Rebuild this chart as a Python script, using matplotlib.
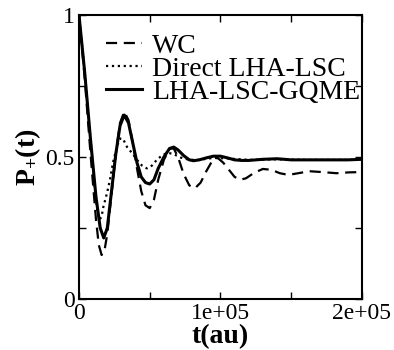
import matplotlib
matplotlib.use('Agg')
from matplotlib import pyplot as plt
from matplotlib.ticker import MultipleLocator

plt.rcParams['font.family'] = ['Liberation Serif', 'DejaVu Serif']
plt.rcParams['mathtext.fontset'] = 'custom'
plt.rcParams['mathtext.rm'] = 'Liberation Serif'
plt.rcParams['mathtext.bf'] = 'Liberation Serif:bold'

# WC (dashed)
t_wc = [0, 4000, 8000, 12000, 14000, 16000, 18000, 20000, 23000, 26000, 29000, 32000,
        35000, 38000, 41000, 44000, 47000, 50000, 53000, 56000, 60000, 64000, 67000,
        70000, 74000, 78000, 82000, 86000, 90000, 94000, 98000, 102000, 106000, 110000,
        114000, 118000, 124000, 130000, 136000, 142000, 148000, 155000, 163000, 172000,
        182000, 191000, 200000]
p_wc = [1.0, 0.78, 0.52, 0.28, 0.19, 0.155, 0.17, 0.23, 0.37, 0.51, 0.62, 0.66,
        0.63, 0.55, 0.46, 0.38, 0.33, 0.32, 0.35, 0.42, 0.49, 0.53, 0.53,
        0.50, 0.44, 0.40, 0.39, 0.41, 0.45, 0.485, 0.497, 0.48, 0.455, 0.43,
        0.42, 0.425, 0.445, 0.458, 0.455, 0.443, 0.437, 0.443, 0.45, 0.447,
        0.443, 0.446, 0.447]

# Direct LHA-LSC (dotted)
t_direct = [0, 4000, 8000, 11000, 13000, 14500, 16000, 17000, 19800, 21900, 24000, 27000,
            29000, 31000, 34000, 37500, 41000, 44500, 48000, 51600, 55000, 59000, 63000,
            67000, 72000, 78000, 85000, 95000, 105000, 120000, 140000, 160000, 180000, 200000]
p_direct = [1.0, 0.80, 0.57, 0.40, 0.31, 0.28, 0.29, 0.32, 0.373, 0.42, 0.48, 0.54,
            0.565, 0.565, 0.535, 0.514, 0.49, 0.47, 0.46, 0.47, 0.49, 0.507, 0.515,
            0.51, 0.498, 0.49, 0.49, 0.497, 0.495, 0.49, 0.492, 0.49, 0.49, 0.49]

# LHA-LSC-GQME (solid)
t_gqme = [0, 4000, 8000, 12000, 15000, 17500, 20000, 23000, 26000, 29000, 32000, 35000,
          38000, 41000, 44000, 47000, 50000, 53000, 56000, 60000, 64000, 67000, 70000,
          74000, 78000, 81000, 85000, 90000, 95000, 100000, 105000, 110000, 115000,
          120000, 130000, 140000, 150000, 160000, 170000, 180000, 190000, 200000]
p_gqme = [1.0, 0.80, 0.57, 0.36, 0.25, 0.215, 0.25, 0.38, 0.51, 0.61, 0.648, 0.62,
          0.55, 0.48, 0.43, 0.41, 0.405, 0.42, 0.46, 0.50, 0.53, 0.535, 0.525,
          0.505, 0.49, 0.487, 0.49, 0.497, 0.503, 0.503, 0.497, 0.49, 0.488,
          0.488, 0.492, 0.494, 0.49, 0.49, 0.49, 0.49, 0.49, 0.492]

fig = plt.figure(figsize=(3.94, 3.5), dpi=100)
ax = fig.add_axes([0.2005, 0.1457, 0.718, 0.8113])

ax.plot(t_wc, p_wc, 'k--', lw=1.6, dashes=(5, 3), label='WC')
ax.plot(t_direct, p_direct, 'k:', lw=1.6, label='Direct LHA-LSC')
ax.plot(t_gqme, p_gqme, 'k-', lw=2.2, label='LHA-LSC-GQME')

ax.set_xlim(0, 2e5)
ax.set_ylim(0, 1)
ax.set_xticks([0, 1e5, 2e5])
ax.set_xticklabels(['0', '1e+05', '2e+05'])
ax.set_yticks([0, 0.5, 1])
ax.set_yticklabels(['0', '0.5', '1'])
ax.xaxis.set_minor_locator(MultipleLocator(5e4))
ax.yaxis.set_minor_locator(MultipleLocator(0.25))
ax.tick_params(which='both', direction='in', top=True, right=True, length=5, width=1,
               labelsize=17, pad=3)
for s in ax.spines.values():
    s.set_linewidth(1.5)

ax.set_xlabel('t(au)', fontsize=20, fontweight='bold', labelpad=0)
ax.set_ylabel(r'$\mathbf{P_{+}(t)}$', fontsize=20, labelpad=2)

ax.legend(loc='upper left', bbox_to_anchor=(0.055, 0.975), frameon=False, fontsize=20,
          handlelength=1.3, handletextpad=0.38, labelspacing=-0.08, borderaxespad=0)

fig.savefig('out.png', dpi=100)
